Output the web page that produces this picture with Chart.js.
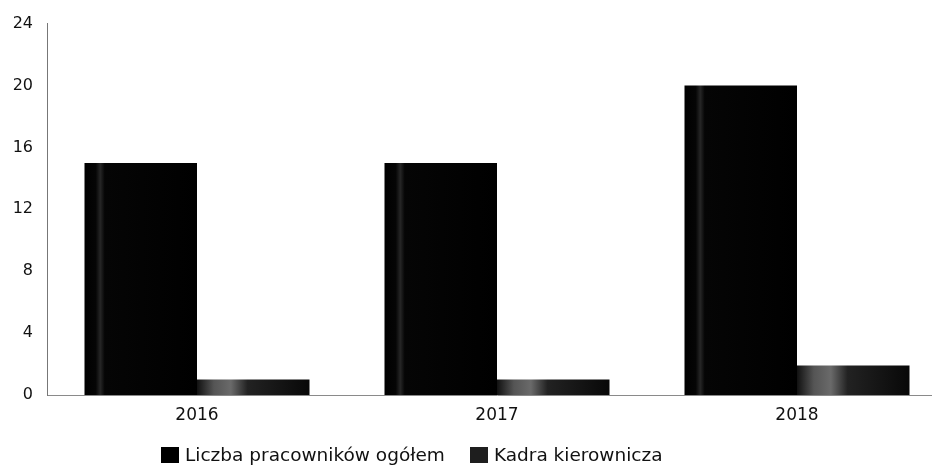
<!DOCTYPE html>
<html>
<head>
<meta charset="utf-8">
<script src="https://cdn.jsdelivr.net/npm/chart.js@4"></script>
<style>
html,body{margin:0;padding:0;background:#fff;overflow:hidden;}
#wrap{position:absolute;left:0;top:0;width:950px;height:467px;}
#legend{position:absolute;top:444px;left:161px;font-family:"DejaVu Sans",sans-serif;font-size:18.5px;line-height:21px;color:#111;display:flex;align-items:center;white-space:nowrap;}
.item{display:flex;align-items:center;}
.sw{width:18px;height:16px;background:#000;margin-right:6px;}
</style>
</head>
<body>
<div id="wrap"><canvas id="c" width="950" height="467"></canvas></div>
<div id="legend"></div>
<script>
const categories = ['2016', '2017', '2018'];
const seriesNames = ['Liczba pracowników ogółem', 'Kadra kierownicza'];
const totalEmployees = [15, 15, 20];
const management = [1, 1, 1.9];
const yTicks = [0, 4, 8, 12, 16, 20, 24];

function barGradient(ctx, stops) {
  const chart = ctx.chart;
  const area = chart.chartArea;
  if (!area || ctx.type !== 'data') return '#000';
  const xs = chart.scales.x;
  const catW = xs.getPixelForValue(1) - xs.getPixelForValue(0);
  const barW = catW * 0.75 / 2;
  const center = xs.getPixelForValue(ctx.dataIndex);
  const left = ctx.datasetIndex === 0 ? center - barW : center;
  const g = chart.ctx.createLinearGradient(left, 0, left + barW, 0);
  stops.forEach(s => g.addColorStop(s[0], s[1]));
  return g;
}

new Chart(document.getElementById('c'), {
  type: 'bar',
  data: {
    labels: categories,
    datasets: [
      {
        label: seriesNames[0],
        data: totalEmployees,
        backgroundColor: ctx => barGradient(ctx, [[0,'#000'],[0.1,'#050505'],[0.14,'#262626'],[0.18,'#050505'],[1,'#000']]),
        borderWidth: 0,
        categoryPercentage: 0.75,
        barPercentage: 1.0
      },
      {
        label: seriesNames[1],
        data: management,
        backgroundColor: ctx => barGradient(ctx, [[0,'#111'],[0.15,'#555'],[0.3,'#6a6a6a'],[0.45,'#222'],[1,'#080808']]),
        borderWidth: 0,
        categoryPercentage: 0.75,
        barPercentage: 1.0
      }
    ]
  },
  options: {
    responsive: false,
    animation: false,
    layout: { padding: { top: 22, right: 3, bottom: 42, left: 0 } },
    plugins: { legend: { display: false }, tooltip: { enabled: false } },
    scales: {
      x: {
        grid: { display: false, drawTicks: false },
        border: { display: true, color: '#8a8a8a', width: 1 },
        ticks: { color: '#111', padding: 10, font: { family: 'DejaVu Sans', size: 17 } },
        afterFit: s => { s.height = 30; }
      },
      y: {
        min: 0, max: 24,
        afterBuildTicks: s => { s.ticks = yTicks.map(v => ({ value: v })); },
        grid: { display: false, drawTicks: false },
        border: { display: true, color: '#777', width: 1, dash: [1, 2] },
        ticks: { color: '#111', padding: 14, font: { family: 'DejaVu Sans', size: 16 } },
        afterFit: s => { s.width = 47; }
      }
    }
  }
});

const lg = document.getElementById('legend');
seriesNames.forEach((n, i) => {
  const it = document.createElement('div');
  it.className = 'item';
  if (i > 0) it.style.marginLeft = '25px';
  const sw = document.createElement('span');
  sw.className = 'sw';
  sw.style.background = i === 0 ? '#000' : '#1e1e1e';
  const t = document.createElement('span');
  t.textContent = n;
  it.appendChild(sw); it.appendChild(t);
  lg.appendChild(it);
});
</script>
</body>
</html>
